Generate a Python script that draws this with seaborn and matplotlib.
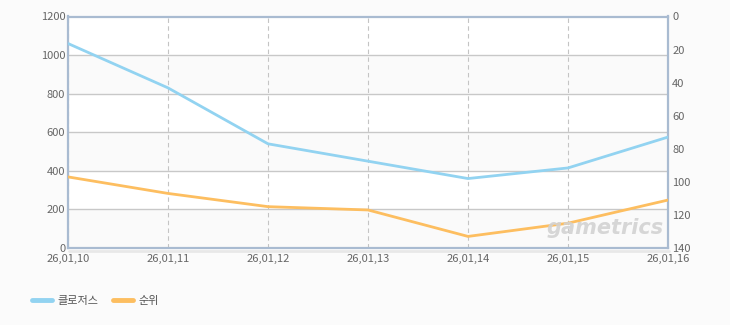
import matplotlib
matplotlib.use("Agg")
import matplotlib.pyplot as plt
import seaborn as sns
import pandas as pd
from matplotlib.lines import Line2D

dates = ["26,01,10", "26,01,11", "26,01,12", "26,01,13", "26,01,14", "26,01,15", "26,01,16"]
closers = [1060, 830, 540, 450, 360, 415, 575]
rank = [97, 107, 115, 117, 133, 125, 111]
left_ticks = [0, 200, 400, 600, 800, 1000, 1200]
right_ticks = [0, 20, 40, 60, 80, 100, 120, 140]
series_names = ["클로저스", "순위"]
blue = "#92d3f1"
orange = "#fdbe60"

sns.set_theme(style="white")
plt.rcParams["font.family"] = ["Liberation Sans Narrow", "Noto Sans CJK KR", "DejaVu Sans"]

df = pd.DataFrame({"x": list(range(len(dates))), "closers": closers, "rank": rank})

fig = plt.figure(figsize=(7.3, 3.25), dpi=100, facecolor="#fbfbfb")
ax = fig.add_axes([68 / 730, 1 - 248 / 325, 600 / 730, 231.5 / 325])
ax.set_facecolor("white")

# alternating bands
for i in range(0, len(left_ticks) - 1):
    if i % 2 == 0:
        ax.axhspan(left_ticks[i], left_ticks[i + 1], color="#fafafa", zorder=0, lw=0)

sns.lineplot(data=df, x="x", y="closers", ax=ax, color=blue, lw=2, zorder=5)
ax.set_xlim(0, len(dates) - 1)
ax.set_ylim(0, 1200)
ax.set_yticks(left_ticks)
ax.set_xticks(range(len(dates)))
ax.set_xticklabels(dates)
ax.set_xlabel("")
ax.set_ylabel("")
ax.grid(axis="y", color="#c8c8c8", lw=1, ls="-", zorder=1)
ax.grid(axis="x", color="#c4c4c4", lw=0.8, ls=(0, (4, 3)), zorder=1)
ax.set_axisbelow(True)
ax.tick_params(axis="y", length=0, labelsize=8, labelcolor="#666666", pad=2)
ax.tick_params(axis="x", length=0, labelsize=8, labelcolor="#666666", pad=4.5)
for s in ax.spines.values():
    s.set_color("#a9bbd1")
    s.set_linewidth(1.6)

ax2 = ax.twinx()
sns.lineplot(data=df, x="x", y="rank", ax=ax2, color=orange, lw=2, zorder=5)
ax2.set_ylim(140, 0)
ax2.set_yticks(right_ticks)
ax2.set_ylabel("")
ax2.tick_params(axis="y", length=0, labelsize=8, labelcolor="#666666", pad=3)
for s in ax2.spines.values():
    s.set_visible(False)

# watermark
fig.text(605 / 730, 1 - 228 / 325, "gametrics", fontsize=15, fontweight="bold", style="italic",
         color="#d2d2d2", ha="center", va="center", family="DejaVu Sans", alpha=0.9, zorder=10)

# shadow below plot
fig.add_artist(Line2D([69 / 730, 669 / 730], [1 - 250.5 / 325] * 2, color="#e8e8e8", lw=2))

handles = [Line2D([], [], color=blue, lw=3.5), Line2D([], [], color=orange, lw=3.5)]
fig.legend(handles, series_names, loc="center left", bbox_to_anchor=(22 / 730, 1 - 301 / 325),
           frameon=False, ncol=2, handlelength=1.8, handletextpad=0.45, columnspacing=1.36,
           prop={"family": ["Noto Sans CJK KR", "DejaVu Sans"], "size": 8}, labelcolor="#555555")

fig.savefig("out.png", dpi=100, facecolor=fig.get_facecolor())
